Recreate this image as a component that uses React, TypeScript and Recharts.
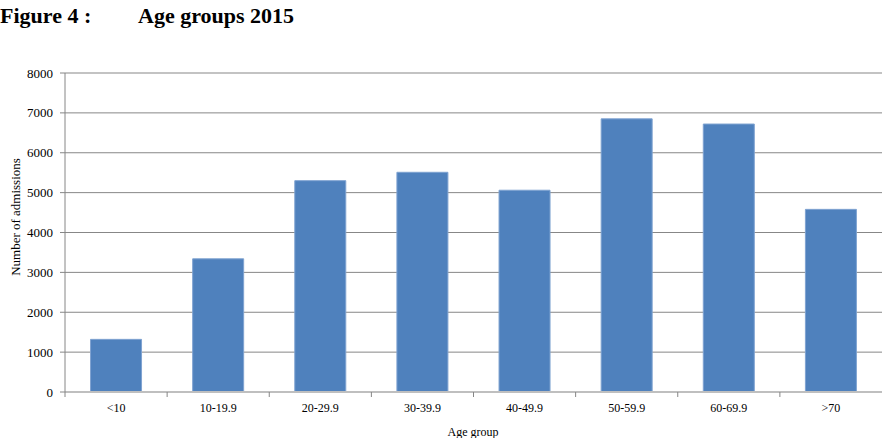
import { BarChart, Bar, XAxis, YAxis, CartesianGrid } from "recharts";

const ageGroups = ["<10", "10-19.9", "20-29.9", "30-39.9", "40-49.9", "50-59.9", "60-69.9", ">70"];
const admissions = [1320, 3340, 5300, 5510, 5060, 6850, 6720, 4580];
const yTicks = [0, 1000, 2000, 3000, 4000, 5000, 6000, 7000, 8000];

const data = ageGroups.map((group, i) => ({ group, admissions: admissions[i] }));

const FONT = "'Liberation Serif', 'Times New Roman', serif";

function AgeTick(props: any) {
  const { x, y, payload } = props;
  const left = x - (payload.offset ?? 0);
  return (
    <g>
      <line x1={left} y1={y - 8} x2={left} y2={y - 3} stroke="#868686" />
      <text x={x} y={y + 12} textAnchor="middle" fontSize={12} fontFamily={FONT} fill="#000">
        {payload.value}
      </text>
    </g>
  );
}

export default function App() {
  return (
    <div style={{ position: "absolute", left: 0, top: 0, width: 882, height: 438, background: "#fff" }}>
      <div
        style={{
          position: "absolute",
          left: 0,
          top: 3,
          fontFamily: FONT,
          fontWeight: "bold",
          fontSize: 22,
          whiteSpace: "pre",
        }}
      >
        <span>Figure 4 :</span>
        <span style={{ position: "absolute", left: 138 }}>Age groups 2015</span>
      </div>
      <BarChart
        width={882}
        height={438}
        data={data}
        margin={{ top: 73, right: 0, left: 0, bottom: 16 }}
        barCategoryGap="25%"
      >
        <CartesianGrid vertical={false} stroke="#878787" />
        <XAxis
          dataKey="group"
          height={30}
          axisLine={{ stroke: "#bfbfbf", strokeWidth: 2 }}
          tickLine={false}
          tick={<AgeTick />}
          interval={0}
          label={{
            content: () => (
              <text x={473} y={436} textAnchor="middle" fontSize={12} fontFamily={FONT} fill="#000">
                Age group
              </text>
            ),
          }}
        />
        <YAxis
          width={65}
          domain={[0, 8000]}
          ticks={yTicks}
          interval={0}
          axisLine={{ stroke: "#868686" }}
          tickLine={{ stroke: "#868686" }}
          tickSize={5}
          tickMargin={7}
          tick={{ fontSize: 13, fontFamily: FONT, fill: "#000" }}
          label={{
            content: () => (
              <text
                x={15}
                y={217}
                transform="rotate(-90, 15, 217)"
                textAnchor="middle"
                dominantBaseline="central"
                fontSize={13}
                fontFamily={FONT}
                fill="#000"
              >
                Number of admissions
              </text>
            ),
          }}
        />
        <Bar dataKey="admissions" fill="#4F81BD" stroke="#7FA3D1" strokeWidth={1} isAnimationActive={false} />
      </BarChart>
    </div>
  );
}
